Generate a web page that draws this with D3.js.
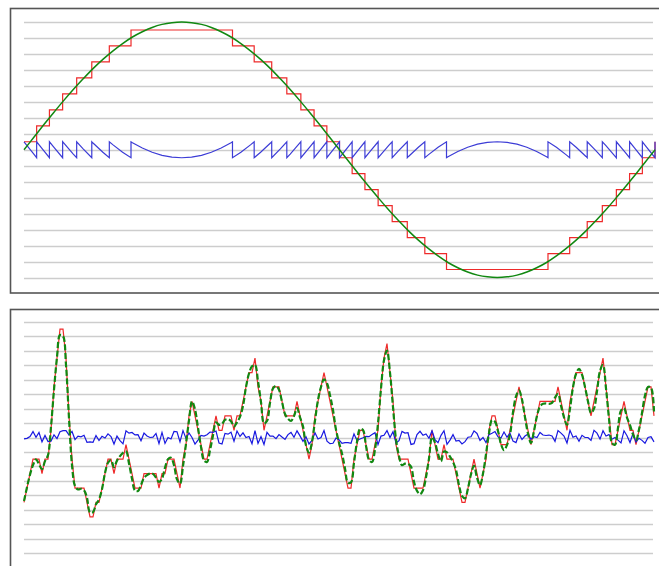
<!DOCTYPE html>
<html>
<head>
<meta charset="utf-8">
<script src="https://cdn.jsdelivr.net/npm/d3@7"></script>
<style>
  html, body { margin: 0; padding: 0; background: #fff; }
  svg { display: block; }
</style>
</head>
<body>
<svg id="chart" width="659" height="566"></svg>
<script>
// ---- data (all values in quantizer step units) ----

// One full period of the input sine, 64 samples per cycle.
const sineSignal = [
  0, 0.78, 1.56, 2.32, 3.06, 3.77, 4.44, 5.08, 5.66, 6.18,
  6.65, 7.06, 7.39, 7.66, 7.85, 7.96, 8, 7.96, 7.85, 7.66,
  7.39, 7.06, 6.65, 6.18, 5.66, 5.08, 4.44, 3.77, 3.06, 2.32,
  1.56, 0.78, 0, -0.78, -1.56, -2.32, -3.06, -3.77, -4.44, -5.08,
  -5.66, -6.18, -6.65, -7.06, -7.39, -7.66, -7.85, -7.96, -8, -7.96,
  -7.85, -7.66, -7.39, -7.06, -6.65, -6.18, -5.66, -5.08, -4.44, -3.77,
  -3.06, -2.32, -1.56, -0.78, 0
];

// Output levels of the mid-rise quantizer.
const quantLevels = [
  -7.5, -6.5, -5.5, -4.5, -3.5, -2.5, -1.5, -0.5,
  0.5, 1.5, 2.5, 3.5, 4.5, 5.5, 6.5, 7.5
];

// Band-limited random input signal.
const noiseSignal = [
  -4.4, -3.44, -2.57, -1.91, -1.51, -1.85, -2.2, -1.64, -1.22, 0.75,
  3.31, 5.57, 7.1, 7.02, 5.02, 1.32, -1.92, -3.36, -3.6, -3.55,
  -3.65, -4.17, -5.2, -5.17, -4.63, -4.29, -3.58, -2.46, -1.75, -1.57,
  -2.05, -1.6, -1.29, -1.06, -0.96, -1.8, -2.85, -3.68, -3.7, -3.28,
  -2.8, -2.6, -2.5, -2.52, -2.78, -3.08, -2.85, -2.09, -1.5, -1.4,
  -1.92, -2.9, -3.2, -1.98, -0.44, 1.18, 2.5, 1.95, 0.68, -0.65,
  -1.6, -1.69, -0.88, 0.14, 1.05, 0.88, 0.95, 1.22, 1.27, 1.13,
  0.76, 1.05, 1.43, 2.18, 3.5, 4.43, 4.93, 5.03, 3.91, 2.44,
  0.98, 1.14, 2.41, 3.4, 3.58, 3.3, 2.47, 1.63, 1.3, 1.15,
  1.48, 2.04, 1.39, 0.77, -0.55, -1.05, -0.3, 1.17, 2.6, 3.5,
  4.02, 3.76, 2.93, 1.9, 0.54, -0.35, -1.1, -2.14, -3.14, -3.1,
  -1.75, -0.3, 0.6, 0.52, -0.58, -1.56, -1.7, -0.83, 0.99, 3.4,
  5.35, 6.02, 4.5, 2.1, -0.12, -1.28, -1.92, -1.81, -1.83, -2.02,
  -3.07, -3.7, -3.93, -3.65, -2.75, -1.45, 0.03, -0.35, -1.14, -1.65,
  -0.97, -1.03, -1.32, -1.7, -2.25, -3.3, -4.05, -4.21, -3.52, -2.55,
  -1.96, -2.78, -3.3, -2.5, -1.15, 0.3, 1.2, 1.09, 0.45, -0.46,
  -0.88, -0.52, 0.2, 1.75, 2.85, 3.26, 2.64, 1.4, 0.27, -0.38,
  0.45, 1.5, 2.15, 2.33, 2.36, 2.33, 2.4, 2.77, 3.02, 2.2,
  1.4, 0.88, 2.0, 3.48, 4.4, 4.76, 4.35, 3.5, 2.5, 1.7,
  2.0, 3.2, 4.61, 5.03, 3.4, 1.3, -0.38, -0.5, 0.68, 1.87,
  2.03, 1.38, 0.85, 0.22, -0.18, 0.55, 1.7, 2.9, 3.5, 3.45,
  1.8
];

// ---- styling ----
const COLORS = {
  frame: "#555555",
  grid: "#cdcdcd",
  input: "#118811",
  quantized: "#ee2a2a",
  errorTop: "#3c3cd6",
  errorBottom: "#1818e0"
};

const svg = d3.select("#chart");

// Mid-rise quantizer: thresholds halfway between output levels.
const quantize = d3.scaleThreshold()
  .domain(d3.pairs(quantLevels, (a, b) => (a + b) / 2))
  .range(quantLevels);

function drawFrame(y0, h) {
  svg.append("rect")
    .attr("x", 10.5).attr("y", y0 + 0.5)
    .attr("width", 700).attr("height", h)
    .attr("fill", "#fff")
    .attr("stroke", COLORS.frame)
    .attr("stroke-width", 1.6);
}

function drawGrid(y) {
  svg.append("g")
    .selectAll("line")
    .data(y.ticks(16))
    .join("line")
    .attr("x1", 24).attr("x2", 653)
    .attr("y1", d => Math.round(y(d)) + 0.5)
    .attr("y2", d => Math.round(y(d)) + 0.5)
    .attr("stroke", COLORS.grid)
    .attr("stroke-width", 1.4);
}

// ---- top panel: sine through the quantizer ----
drawFrame(8, 284.5);
const xTop = d3.scaleLinear().domain([0, sineSignal.length - 1]).range([24, 655]);
const yTop = d3.scaleLinear().domain([-8, 8]).range([277.5, 22]);
drawGrid(yTop);

// Follow the piecewise-linear input, splitting each segment where it
// crosses a quantizer threshold, so the output steps and the error
// sawtooth change exactly at the crossings.
function traceQuantized(values) {
  const steps = [];
  const err = [];
  const thresholds = quantize.domain();
  values.forEach((v, i) => {
    if (i > 0) {
      const v0 = values[i - 1];
      const rising = v > v0;
      const crossed = thresholds
        .filter(c => (v0 < c && c <= v) || (v < c && c <= v0))
        .sort((a, b) => rising ? a - b : b - a);
      crossed.forEach(c => {
        const t = i - 1 + (c - v0) / (v - v0);
        const before = steps[steps.length - 1].q;
        const after = rising ? quantize(c) : quantize(c - 1e-9);
        err.push({ t, e: before - c });
        err.push({ t, e: after - c });
        steps.push({ t, q: after });
      });
    }
    const q = quantize(v);
    steps.push({ t: i, q });
    err.push({ t: i, e: q - v });
  });
  return { steps, err };
}

const sineTrace = traceQuantized(sineSignal);

svg.append("path")
  .datum(sineTrace.steps)
  .attr("fill", "none")
  .attr("stroke", COLORS.quantized)
  .attr("stroke-width", 1.2)
  .attr("d", d3.line().x(d => xTop(d.t)).y(d => yTop(d.q)).curve(d3.curveStepAfter));

svg.append("path")
  .datum(sineTrace.err)
  .attr("fill", "none")
  .attr("stroke", COLORS.errorTop)
  .attr("stroke-width", 1.2)
  .attr("d", d3.line().x(d => xTop(d.t)).y(d => yTop(d.e)));

svg.append("path")
  .datum(sineSignal)
  .attr("fill", "none")
  .attr("stroke", COLORS.input)
  .attr("stroke-width", 1.5)
  .attr("d", d3.line().x((d, i) => xTop(i)).y(d => yTop(d)).curve(d3.curveCatmullRom));

// ---- bottom panel: random signal through the quantizer ----
drawFrame(309, 300);
const xBot = d3.scaleLinear().domain([0, noiseSignal.length - 1]).range([24, 654]);
const yBot = d3.scaleLinear().domain([-8, 8]).range([553, 322]);
drawGrid(yBot);

svg.append("path")
  .datum(noiseSignal)
  .attr("fill", "none")
  .attr("stroke", COLORS.quantized)
  .attr("stroke-width", 1.2)
  .attr("d", d3.line().x((d, i) => xBot(i)).y(d => yBot(quantize(d))));

svg.append("path")
  .datum(noiseSignal)
  .attr("fill", "none")
  .attr("stroke", COLORS.errorBottom)
  .attr("stroke-width", 1.2)
  .attr("d", d3.line().x((d, i) => xBot(i)).y(d => yBot(quantize(d) - d)));

svg.append("path")
  .datum(noiseSignal)
  .attr("fill", "none")
  .attr("stroke", COLORS.input)
  .attr("stroke-width", 2.2)
  .attr("stroke-dasharray", "6,2.5")
  .attr("d", d3.line().x((d, i) => xBot(i)).y(d => yBot(d)).curve(d3.curveCatmullRom));
</script>
</body>
</html>
